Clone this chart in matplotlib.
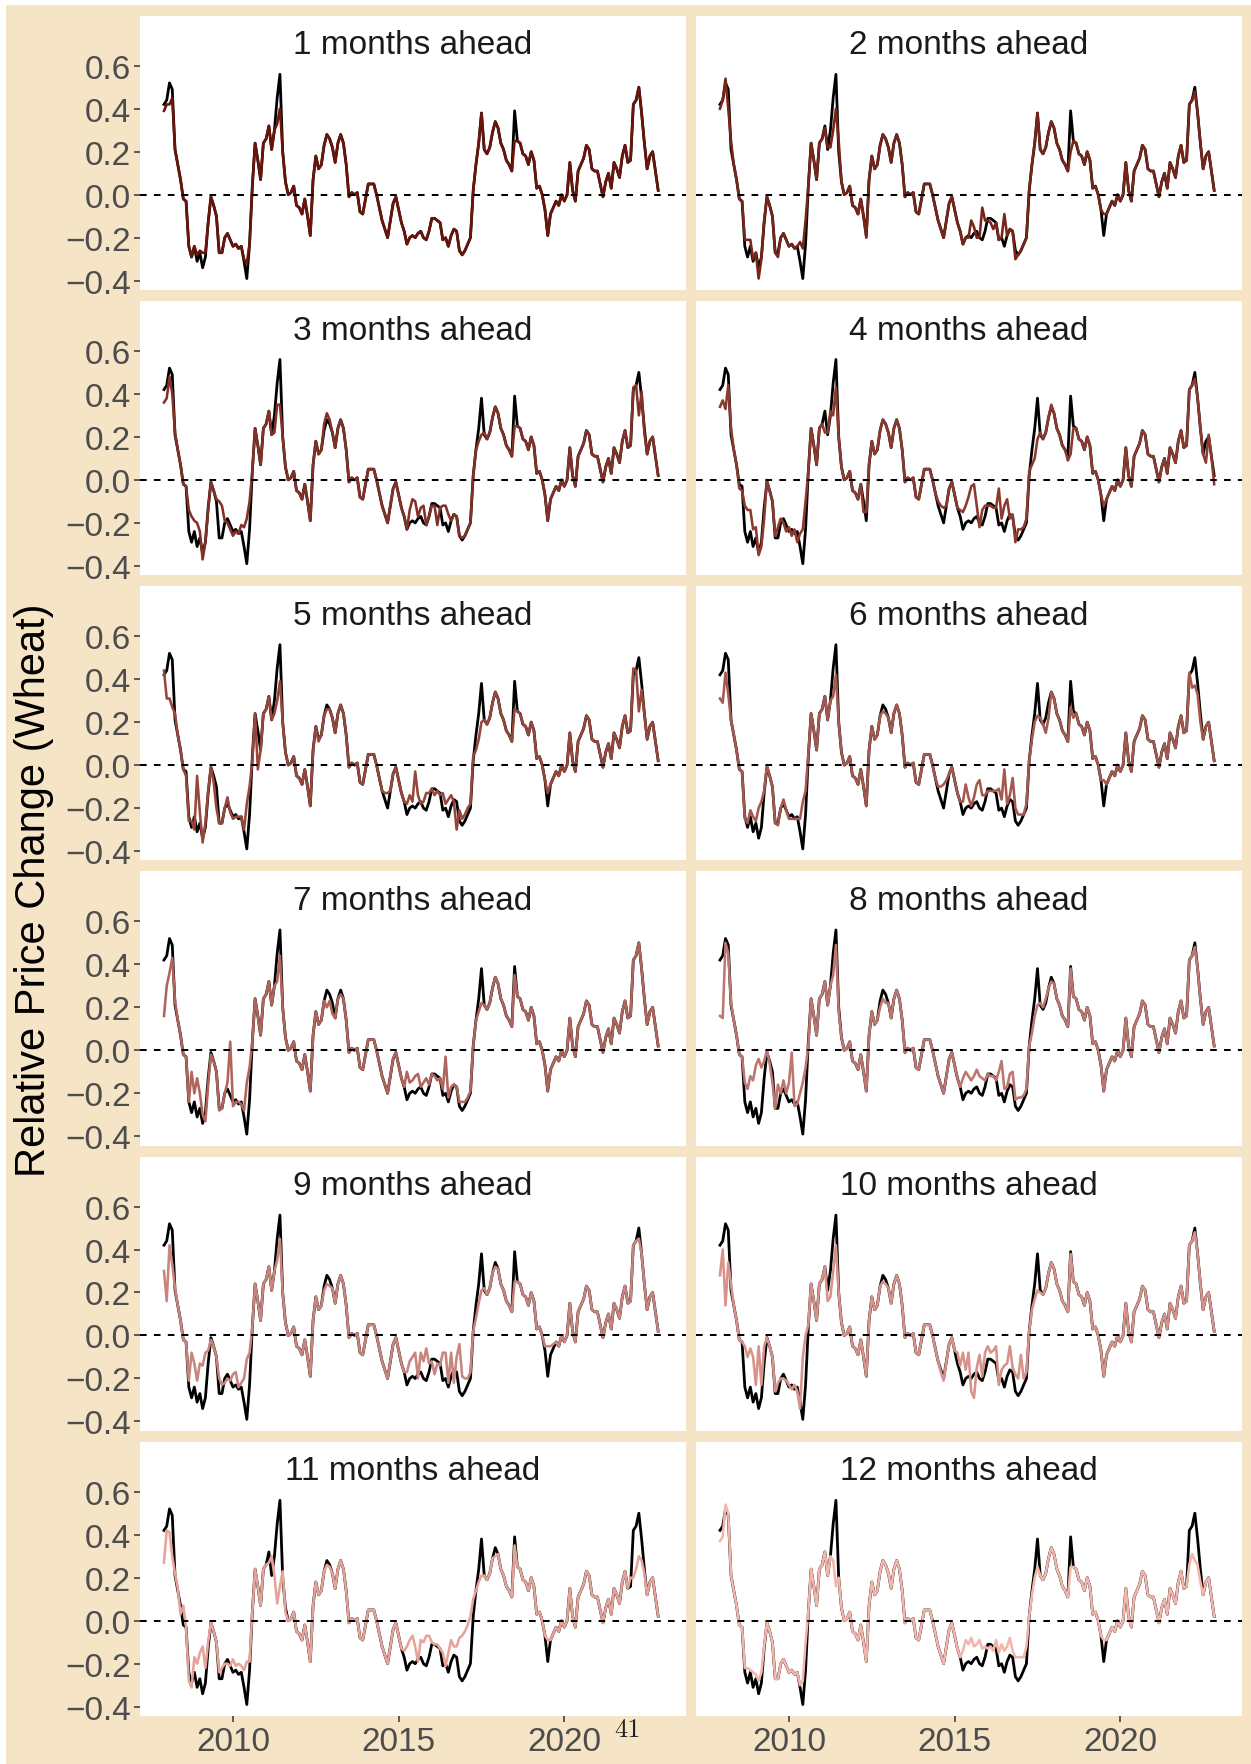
import numpy as np
import matplotlib
matplotlib.use("Agg")
import matplotlib.pyplot as plt

# monthly values, first month is Dec 2007
start_year, start_month = 2007, 12

actual = [
    0.42, 0.44, 0.52, 0.49, 0.21, 0.14, 0.07, -0.02, -0.03, -0.24, -0.29, -0.24,
    -0.31, -0.27, -0.34, -0.29, -0.13, -0.01, -0.05, -0.10, -0.27, -0.27, -0.20, -0.18,
    -0.21, -0.24, -0.23, -0.25, -0.24, -0.31, -0.39, -0.23, 0.04, 0.24, 0.16, 0.07,
    0.24, 0.26, 0.32, 0.21, 0.30, 0.45, 0.56, 0.20, 0.06, 0.00, 0.01, 0.04,
    -0.05, -0.06, -0.09, -0.02, -0.10, -0.19, 0.07, 0.18, 0.12, 0.14, 0.23, 0.28,
    0.26, 0.22, 0.15, 0.24, 0.28, 0.24, 0.14, -0.01, 0.01, 0.00, 0.01, -0.08,
    -0.09, -0.02, 0.05, 0.05, 0.05, 0.00, -0.06, -0.12, -0.16, -0.20, -0.12, -0.04,
    -0.01, -0.07, -0.13, -0.17, -0.23, -0.20, -0.19, -0.20, -0.18, -0.17, -0.20, -0.21,
    -0.17, -0.11, -0.11, -0.12, -0.13, -0.21, -0.20, -0.24, -0.19, -0.16, -0.17, -0.26,
    -0.28, -0.26, -0.23, -0.20, 0.02, 0.14, 0.24, 0.38, 0.21, 0.19, 0.22, 0.29,
    0.34, 0.31, 0.24, 0.21, 0.16, 0.14, 0.11, 0.39, 0.25, 0.24, 0.19, 0.18,
    0.14, 0.20, 0.16, 0.03, 0.04, 0.00, -0.07, -0.19, -0.09, -0.06, -0.03, -0.05,
    0.00, -0.03, 0.00, 0.15, 0.02, -0.03, 0.11, 0.14, 0.17, 0.23, 0.21, 0.12,
    0.11, 0.11, 0.05, -0.01, 0.06, 0.10, 0.03, 0.15, 0.12, 0.08, 0.18, 0.23,
    0.15, 0.16, 0.42, 0.44, 0.50, 0.38, 0.24, 0.12, 0.18, 0.20, 0.11, 0.02,
]

ahead_1 = [
    0.39, 0.42, 0.42, 0.45, 0.21, 0.14, 0.07, -0.02, -0.03, -0.24, -0.29, -0.24,
    -0.28, -0.26, -0.27, -0.27, -0.13, -0.01, -0.05, -0.10, -0.27, -0.27, -0.20, -0.18,
    -0.21, -0.24, -0.23, -0.25, -0.24, -0.30, -0.32, -0.23, 0.04, 0.24, 0.16, 0.07,
    0.24, 0.26, 0.32, 0.21, 0.30, 0.33, 0.40, 0.20, 0.06, 0.00, 0.01, 0.04,
    -0.05, -0.06, -0.09, -0.02, -0.10, -0.19, 0.07, 0.18, 0.12, 0.14, 0.23, 0.28,
    0.26, 0.22, 0.15, 0.24, 0.28, 0.24, 0.14, -0.01, 0.01, 0.00, 0.01, -0.08,
    -0.09, -0.02, 0.05, 0.05, 0.05, 0.00, -0.06, -0.12, -0.16, -0.20, -0.12, -0.04,
    -0.01, -0.07, -0.13, -0.17, -0.23, -0.20, -0.19, -0.20, -0.18, -0.17, -0.20, -0.21,
    -0.17, -0.11, -0.11, -0.12, -0.13, -0.21, -0.20, -0.24, -0.19, -0.16, -0.17, -0.26,
    -0.28, -0.26, -0.23, -0.20, 0.02, 0.14, 0.24, 0.38, 0.21, 0.19, 0.22, 0.29,
    0.34, 0.31, 0.24, 0.21, 0.16, 0.14, 0.11, 0.25, 0.25, 0.24, 0.19, 0.18,
    0.14, 0.20, 0.16, 0.03, 0.04, 0.00, -0.07, -0.19, -0.09, -0.06, -0.03, -0.05,
    0.00, -0.03, 0.00, 0.15, 0.02, -0.03, 0.11, 0.14, 0.17, 0.23, 0.21, 0.12,
    0.11, 0.11, 0.05, -0.01, 0.06, 0.10, 0.03, 0.15, 0.12, 0.08, 0.18, 0.23,
    0.15, 0.16, 0.42, 0.44, 0.50, 0.38, 0.24, 0.12, 0.18, 0.20, 0.11, 0.02,
]

ahead_2 = [
    0.40, 0.44, 0.54, 0.40, 0.25, 0.14, 0.07, -0.02, -0.03, -0.21, -0.21, -0.21,
    -0.30, -0.27, -0.39, -0.30, -0.12, -0.01, -0.05, -0.10, -0.27, -0.29, -0.20, -0.18,
    -0.21, -0.24, -0.23, -0.25, -0.24, -0.22, -0.25, -0.12, 0.04, 0.24, 0.16, 0.07,
    0.24, 0.26, 0.31, 0.22, 0.22, 0.30, 0.40, 0.25, 0.06, 0.00, 0.01, 0.04,
    -0.05, -0.06, -0.09, -0.02, -0.10, -0.20, 0.07, 0.18, 0.12, 0.14, 0.23, 0.28,
    0.26, 0.22, 0.15, 0.24, 0.28, 0.24, 0.14, -0.01, 0.01, 0.00, 0.01, -0.08,
    -0.09, -0.02, 0.05, 0.05, 0.05, 0.00, -0.06, -0.12, -0.16, -0.20, -0.12, -0.04,
    -0.01, -0.07, -0.13, -0.17, -0.23, -0.20, -0.20, -0.12, -0.15, -0.20, -0.20, -0.06,
    -0.12, -0.12, -0.13, -0.16, -0.13, -0.21, -0.20, -0.09, -0.19, -0.16, -0.17, -0.30,
    -0.28, -0.26, -0.23, -0.20, 0.02, 0.14, 0.24, 0.38, 0.21, 0.19, 0.22, 0.29,
    0.34, 0.31, 0.24, 0.21, 0.16, 0.14, 0.11, 0.20, 0.25, 0.24, 0.19, 0.18,
    0.14, 0.20, 0.16, 0.03, 0.04, 0.00, -0.07, -0.09, -0.09, -0.06, -0.03, -0.05,
    0.00, -0.03, 0.00, 0.15, 0.02, -0.03, 0.11, 0.14, 0.17, 0.23, 0.21, 0.12,
    0.11, 0.11, 0.05, -0.01, 0.06, 0.10, 0.03, 0.15, 0.12, 0.08, 0.18, 0.23,
    0.15, 0.16, 0.42, 0.44, 0.48, 0.38, 0.24, 0.12, 0.18, 0.20, 0.11, 0.02,
]

ahead_3 = [
    0.36, 0.38, 0.48, 0.40, 0.22, 0.14, 0.07, -0.02, -0.03, -0.14, -0.17, -0.19,
    -0.20, -0.24, -0.37, -0.29, -0.14, -0.01, -0.05, -0.09, -0.10, -0.12, -0.19, -0.20,
    -0.23, -0.26, -0.24, -0.25, -0.21, -0.22, -0.18, -0.10, 0.04, 0.24, 0.16, 0.07,
    0.24, 0.26, 0.32, 0.21, 0.22, 0.35, 0.35, 0.20, 0.06, 0.00, 0.01, 0.04,
    -0.05, -0.06, -0.09, -0.02, -0.10, -0.19, 0.07, 0.18, 0.12, 0.14, 0.26, 0.31,
    0.28, 0.22, 0.15, 0.24, 0.28, 0.24, 0.14, -0.01, 0.01, 0.00, 0.01, -0.08,
    -0.09, -0.02, 0.05, 0.05, 0.05, 0.00, -0.06, -0.12, -0.16, -0.20, -0.12, -0.04,
    -0.01, -0.07, -0.13, -0.17, -0.23, -0.14, -0.09, -0.10, -0.17, -0.13, -0.12, -0.21,
    -0.17, -0.12, -0.12, -0.21, -0.13, -0.12, -0.12, -0.16, -0.19, -0.16, -0.17, -0.26,
    -0.27, -0.26, -0.23, -0.20, 0.02, 0.14, 0.18, 0.21, 0.22, 0.19, 0.22, 0.29,
    0.34, 0.31, 0.24, 0.21, 0.16, 0.14, 0.11, 0.25, 0.25, 0.24, 0.19, 0.18,
    0.14, 0.20, 0.16, 0.03, 0.04, 0.00, -0.07, -0.19, -0.09, -0.06, -0.03, -0.05,
    0.00, -0.03, 0.00, 0.15, 0.02, -0.03, 0.11, 0.14, 0.17, 0.23, 0.21, 0.12,
    0.11, 0.11, 0.05, -0.01, 0.06, 0.10, 0.03, 0.15, 0.12, 0.08, 0.18, 0.23,
    0.15, 0.16, 0.43, 0.44, 0.30, 0.41, 0.22, 0.12, 0.18, 0.20, 0.11, 0.02,
]

ahead_4 = [
    0.34, 0.37, 0.33, 0.44, 0.24, 0.14, 0.07, -0.04, -0.05, -0.12, -0.14, -0.14,
    -0.23, -0.22, -0.35, -0.31, -0.18, 0.00, -0.05, -0.10, -0.26, -0.22, -0.18, -0.20,
    -0.24, -0.22, -0.26, -0.23, -0.29, -0.25, -0.23, -0.10, 0.04, 0.24, 0.16, 0.07,
    0.24, 0.26, 0.22, 0.22, 0.32, 0.30, 0.43, 0.20, 0.06, 0.00, 0.01, 0.04,
    -0.05, -0.06, -0.09, -0.02, -0.15, -0.15, 0.07, 0.18, 0.12, 0.14, 0.23, 0.28,
    0.26, 0.22, 0.15, 0.24, 0.28, 0.24, 0.14, -0.01, 0.01, 0.00, 0.01, -0.08,
    -0.09, -0.02, 0.05, 0.05, 0.05, 0.00, -0.06, -0.10, -0.12, -0.13, -0.12, -0.04,
    -0.01, -0.07, -0.13, -0.14, -0.15, -0.12, -0.08, -0.03, -0.02, -0.12, -0.22, -0.14,
    -0.12, -0.12, -0.12, -0.13, -0.13, -0.04, -0.18, -0.12, -0.09, -0.18, -0.16, -0.29,
    -0.23, -0.23, -0.22, -0.18, 0.04, 0.07, 0.10, 0.19, 0.22, 0.19, 0.22, 0.29,
    0.35, 0.31, 0.24, 0.21, 0.16, 0.14, 0.09, 0.12, 0.24, 0.24, 0.19, 0.18,
    0.14, 0.20, 0.16, 0.03, 0.04, 0.00, -0.07, -0.12, -0.09, -0.06, -0.03, -0.05,
    0.00, -0.03, 0.00, 0.15, 0.02, -0.03, 0.11, 0.14, 0.17, 0.23, 0.21, 0.12,
    0.11, 0.11, 0.05, -0.01, 0.06, 0.10, 0.03, 0.15, 0.12, 0.08, 0.18, 0.23,
    0.15, 0.16, 0.42, 0.44, 0.47, 0.38, 0.24, 0.12, 0.08, 0.21, 0.11, -0.02,
]

ahead_5 = [
    0.44, 0.31, 0.31, 0.27, 0.24, 0.14, 0.07, -0.02, -0.05, -0.26, -0.26, -0.30,
    -0.05, -0.22, -0.36, -0.27, -0.12, -0.01, -0.08, -0.20, -0.27, -0.27, -0.20, -0.15,
    -0.22, -0.25, -0.24, -0.24, -0.24, -0.30, -0.18, -0.10, 0.02, 0.24, -0.02, 0.07,
    0.24, 0.26, 0.32, 0.21, 0.24, 0.30, 0.39, 0.20, 0.06, 0.00, 0.01, 0.04,
    -0.05, -0.06, -0.09, -0.02, -0.10, -0.19, 0.07, 0.18, 0.11, 0.14, 0.23, 0.26,
    0.26, 0.22, 0.15, 0.24, 0.28, 0.24, 0.14, -0.01, 0.01, 0.00, 0.01, -0.08,
    -0.09, -0.02, 0.05, 0.05, 0.05, 0.00, -0.06, -0.12, -0.13, -0.13, -0.12, -0.04,
    -0.01, -0.07, -0.13, -0.17, -0.18, -0.14, -0.17, -0.03, -0.14, -0.18, -0.17, -0.13,
    -0.13, -0.11, -0.14, -0.12, -0.14, -0.13, -0.18, -0.16, -0.14, -0.17, -0.30, -0.21,
    -0.25, -0.23, -0.20, -0.18, 0.04, 0.07, 0.12, 0.20, 0.21, 0.19, 0.22, 0.29,
    0.34, 0.31, 0.24, 0.21, 0.16, 0.14, 0.11, 0.26, 0.25, 0.24, 0.19, 0.18,
    0.14, 0.20, 0.16, 0.03, 0.04, 0.00, -0.07, -0.13, -0.09, -0.06, -0.03, -0.05,
    0.00, -0.03, 0.00, 0.15, 0.02, -0.03, 0.11, 0.14, 0.17, 0.23, 0.21, 0.12,
    0.11, 0.11, 0.05, -0.01, 0.06, 0.10, 0.03, 0.15, 0.12, 0.08, 0.18, 0.23,
    0.15, 0.16, 0.45, 0.44, 0.25, 0.35, 0.24, 0.12, 0.18, 0.20, 0.11, 0.02,
]

ahead_6 = [
    0.31, 0.29, 0.43, 0.33, 0.21, 0.14, 0.07, -0.02, -0.03, -0.25, -0.27, -0.21,
    -0.24, -0.26, -0.20, -0.17, -0.12, 0.00, -0.05, -0.10, -0.27, -0.28, -0.20, -0.16,
    -0.21, -0.25, -0.25, -0.25, -0.25, -0.25, -0.17, -0.12, 0.05, 0.24, 0.16, 0.07,
    0.24, 0.26, 0.32, 0.21, 0.30, 0.32, 0.42, 0.20, 0.06, 0.00, 0.01, 0.04,
    -0.05, -0.06, -0.09, -0.02, -0.10, -0.19, 0.07, 0.18, 0.12, 0.14, 0.23, 0.25,
    0.24, 0.22, 0.15, 0.24, 0.28, 0.24, 0.14, -0.01, 0.01, 0.00, 0.01, -0.08,
    -0.09, -0.02, 0.05, 0.05, 0.05, 0.00, -0.06, -0.10, -0.10, -0.09, -0.07, -0.04,
    -0.01, -0.07, -0.13, -0.17, -0.17, -0.09, -0.15, -0.19, -0.15, -0.09, -0.07, -0.14,
    -0.14, -0.12, -0.12, -0.12, -0.12, -0.11, -0.16, -0.02, -0.18, -0.14, -0.06, -0.20,
    -0.23, -0.23, -0.23, -0.18, 0.02, 0.12, 0.20, 0.23, 0.22, 0.19, 0.15, 0.22,
    0.34, 0.31, 0.24, 0.21, 0.16, 0.14, 0.11, 0.27, 0.22, 0.24, 0.19, 0.18,
    0.14, 0.20, 0.16, 0.03, 0.04, 0.00, -0.07, -0.07, -0.09, -0.06, -0.03, -0.05,
    0.00, -0.03, 0.00, 0.15, 0.02, -0.03, 0.11, 0.14, 0.17, 0.23, 0.21, 0.12,
    0.11, 0.11, 0.05, -0.01, 0.06, 0.10, 0.03, 0.15, 0.12, 0.08, 0.18, 0.23,
    0.15, 0.16, 0.43, 0.36, 0.37, 0.33, 0.20, 0.12, 0.18, 0.20, 0.11, 0.02,
]

ahead_7 = [
    0.16, 0.30, 0.36, 0.43, 0.23, 0.14, 0.07, -0.02, -0.03, -0.24, -0.10, -0.20,
    -0.13, -0.20, -0.30, -0.33, -0.16, -0.02, -0.05, -0.10, -0.28, -0.27, -0.20, -0.15,
    0.04, -0.26, -0.24, -0.24, -0.25, -0.28, -0.15, -0.08, 0.04, 0.24, 0.16, 0.07,
    0.24, 0.26, 0.32, 0.21, 0.30, 0.32, 0.44, 0.20, 0.06, 0.00, 0.01, 0.04,
    -0.05, -0.06, -0.09, -0.02, -0.10, -0.19, 0.07, 0.18, 0.12, 0.14, 0.23, 0.20,
    0.23, 0.17, 0.15, 0.24, 0.26, 0.24, 0.14, -0.01, 0.01, 0.00, 0.01, -0.08,
    -0.09, -0.02, 0.05, 0.05, 0.05, 0.00, -0.06, -0.12, -0.16, -0.20, -0.12, -0.04,
    -0.01, -0.07, -0.13, -0.17, -0.10, -0.15, -0.14, -0.12, -0.11, -0.17, -0.15, -0.13,
    -0.16, -0.11, -0.12, -0.14, -0.13, -0.18, -0.03, -0.22, -0.17, -0.16, -0.17, -0.24,
    -0.24, -0.24, -0.22, -0.19, 0.02, 0.14, 0.18, 0.22, 0.21, 0.19, 0.22, 0.29,
    0.34, 0.31, 0.24, 0.21, 0.16, 0.14, 0.11, 0.35, 0.25, 0.24, 0.19, 0.18,
    0.14, 0.20, 0.16, 0.03, 0.04, 0.00, -0.07, -0.19, -0.09, -0.06, -0.03, -0.05,
    0.00, -0.03, 0.00, 0.15, 0.02, -0.03, 0.11, 0.14, 0.17, 0.23, 0.21, 0.12,
    0.11, 0.11, 0.05, -0.01, 0.06, 0.10, 0.03, 0.15, 0.12, 0.08, 0.18, 0.23,
    0.15, 0.16, 0.42, 0.44, 0.50, 0.38, 0.24, 0.12, 0.18, 0.20, 0.11, 0.02,
]

ahead_8 = [
    0.16, 0.15, 0.50, 0.45, 0.22, 0.14, 0.07, -0.02, -0.03, -0.15, -0.18, -0.12,
    -0.14, -0.07, -0.04, -0.08, -0.05, 0.00, -0.06, -0.15, -0.27, -0.16, -0.20, -0.14,
    -0.20, -0.15, -0.01, -0.26, -0.25, -0.20, -0.15, -0.08, 0.02, 0.24, 0.16, 0.07,
    0.24, 0.26, 0.32, 0.21, 0.30, 0.35, 0.49, 0.18, 0.06, 0.00, 0.01, 0.04,
    -0.05, -0.06, -0.09, -0.02, -0.10, -0.19, 0.07, 0.18, 0.12, 0.14, 0.20, 0.24,
    0.22, 0.22, 0.15, 0.24, 0.28, 0.24, 0.14, -0.01, 0.01, 0.00, 0.01, -0.08,
    -0.09, -0.02, 0.05, 0.05, 0.05, 0.00, -0.06, -0.12, -0.16, -0.20, -0.12, -0.04,
    -0.01, -0.07, -0.13, -0.17, -0.13, -0.10, -0.12, -0.14, -0.12, -0.09, -0.12, -0.13,
    -0.14, -0.11, -0.12, -0.12, -0.14, -0.10, -0.05, -0.18, -0.17, -0.11, -0.10, -0.23,
    -0.22, -0.22, -0.21, -0.18, 0.02, 0.08, 0.16, 0.21, 0.22, 0.20, 0.24, 0.29,
    0.32, 0.31, 0.24, 0.21, 0.16, 0.14, 0.11, 0.38, 0.25, 0.24, 0.19, 0.18,
    0.14, 0.20, 0.16, 0.03, 0.04, 0.00, -0.07, -0.19, -0.09, -0.06, -0.03, -0.05,
    0.00, -0.03, 0.00, 0.15, 0.02, -0.03, 0.11, 0.14, 0.17, 0.23, 0.21, 0.12,
    0.11, 0.11, 0.05, -0.01, 0.06, 0.10, 0.03, 0.15, 0.12, 0.08, 0.18, 0.23,
    0.15, 0.16, 0.42, 0.44, 0.48, 0.38, 0.24, 0.12, 0.18, 0.20, 0.11, 0.02,
]

ahead_9 = [
    0.30, 0.16, 0.42, 0.33, 0.22, 0.14, 0.07, -0.02, -0.03, -0.21, -0.08, -0.13,
    -0.21, -0.13, -0.14, -0.08, -0.07, -0.02, -0.05, -0.10, -0.20, -0.23, -0.22, -0.20,
    -0.21, -0.18, -0.17, -0.24, -0.22, -0.20, -0.11, -0.08, 0.04, 0.24, 0.16, 0.07,
    0.24, 0.26, 0.32, 0.21, 0.30, 0.35, 0.45, 0.20, 0.06, 0.00, 0.01, 0.04,
    -0.05, -0.06, -0.09, -0.02, -0.10, -0.19, 0.07, 0.18, 0.12, 0.14, 0.21, 0.24,
    0.23, 0.22, 0.15, 0.24, 0.28, 0.24, 0.14, -0.01, 0.01, 0.00, 0.01, -0.08,
    -0.09, -0.02, 0.05, 0.05, 0.05, 0.00, -0.06, -0.12, -0.16, -0.20, -0.12, -0.04,
    -0.01, -0.07, -0.13, -0.17, -0.17, -0.12, -0.10, -0.08, -0.20, -0.08, -0.12, -0.06,
    -0.13, -0.12, -0.18, -0.13, -0.14, -0.08, -0.08, -0.22, -0.08, -0.22, -0.10, -0.04,
    -0.19, -0.20, -0.20, -0.17, 0.02, 0.08, 0.15, 0.21, 0.22, 0.19, 0.22, 0.29,
    0.32, 0.31, 0.24, 0.21, 0.16, 0.14, 0.11, 0.25, 0.25, 0.24, 0.19, 0.18,
    0.14, 0.20, 0.16, 0.03, 0.04, 0.00, -0.05, -0.05, -0.05, -0.04, -0.03, -0.05,
    0.00, -0.03, 0.00, 0.15, 0.02, -0.03, 0.11, 0.14, 0.17, 0.23, 0.21, 0.12,
    0.11, 0.11, 0.05, -0.01, 0.06, 0.10, 0.03, 0.15, 0.12, 0.08, 0.18, 0.23,
    0.15, 0.16, 0.42, 0.44, 0.45, 0.38, 0.24, 0.12, 0.18, 0.20, 0.11, 0.02,
]

ahead_10 = [
    0.28, 0.40, 0.14, 0.34, 0.24, 0.14, 0.07, -0.02, -0.03, -0.05, -0.10, -0.06,
    -0.10, -0.23, -0.05, -0.23, -0.05, -0.01, -0.05, -0.10, -0.26, -0.22, -0.20, -0.20,
    -0.21, -0.23, -0.25, -0.23, -0.26, -0.34, -0.10, 0.00, 0.05, 0.24, 0.16, 0.07,
    0.24, 0.26, 0.32, 0.16, 0.18, 0.30, 0.42, 0.20, 0.06, 0.00, 0.01, 0.04,
    -0.05, -0.06, -0.09, -0.02, -0.10, -0.19, 0.07, 0.18, 0.12, 0.14, 0.23, 0.25,
    0.24, 0.22, 0.15, 0.24, 0.28, 0.24, 0.14, -0.01, 0.01, 0.00, 0.01, -0.08,
    -0.09, -0.02, 0.05, 0.05, 0.05, 0.00, -0.06, -0.12, -0.17, -0.21, -0.12, -0.04,
    -0.01, -0.07, -0.08, -0.14, -0.08, -0.16, -0.08, -0.26, -0.29, -0.15, -0.09, -0.19,
    -0.08, -0.05, -0.08, -0.07, -0.05, -0.23, -0.16, -0.14, -0.13, -0.05, -0.15, -0.18,
    -0.20, -0.09, -0.20, -0.17, 0.02, 0.12, 0.17, 0.21, 0.20, 0.19, 0.22, 0.29,
    0.34, 0.31, 0.24, 0.21, 0.16, 0.14, 0.11, 0.38, 0.25, 0.24, 0.19, 0.18,
    0.14, 0.20, 0.16, 0.03, 0.04, 0.00, -0.07, -0.19, -0.09, -0.06, -0.03, -0.05,
    0.00, -0.03, 0.00, 0.15, 0.02, -0.03, 0.11, 0.14, 0.17, 0.23, 0.21, 0.12,
    0.11, 0.11, 0.05, -0.01, 0.06, 0.10, 0.03, 0.15, 0.12, 0.08, 0.18, 0.23,
    0.15, 0.16, 0.42, 0.44, 0.48, 0.38, 0.24, 0.12, 0.18, 0.20, 0.11, 0.02,
]

ahead_11 = [
    0.27, 0.42, 0.41, 0.30, 0.22, 0.15, 0.03, 0.07, -0.03, -0.28, -0.31, -0.17,
    -0.20, -0.15, -0.12, -0.22, -0.10, -0.01, -0.05, -0.10, -0.24, -0.22, -0.20, -0.20,
    -0.21, -0.18, -0.21, -0.20, -0.21, -0.23, -0.19, -0.19, 0.04, 0.24, 0.16, 0.07,
    0.24, 0.26, 0.27, 0.30, 0.21, 0.08, 0.16, 0.23, 0.04, 0.00, 0.01, 0.04,
    -0.05, -0.06, -0.09, -0.02, -0.10, -0.19, 0.07, 0.18, 0.12, 0.14, 0.23, 0.26,
    0.25, 0.22, 0.15, 0.24, 0.28, 0.24, 0.14, -0.01, 0.01, 0.00, 0.01, -0.08,
    -0.09, -0.02, 0.05, 0.05, 0.05, 0.00, -0.06, -0.12, -0.16, -0.20, -0.12, -0.04,
    -0.01, -0.07, -0.13, -0.14, -0.12, -0.09, -0.07, -0.12, -0.19, -0.09, -0.10, -0.07,
    -0.07, -0.10, -0.11, -0.11, -0.13, -0.15, -0.21, -0.15, -0.09, -0.12, -0.12, -0.08,
    -0.07, -0.05, -0.02, 0.02, 0.10, 0.14, 0.18, 0.21, 0.21, 0.19, 0.22, 0.29,
    0.30, 0.31, 0.24, 0.21, 0.16, 0.14, 0.11, 0.35, 0.25, 0.24, 0.19, 0.18,
    0.14, 0.20, 0.16, 0.03, 0.04, 0.00, -0.07, -0.09, -0.09, -0.06, -0.03, -0.05,
    0.00, -0.03, 0.00, 0.15, 0.02, -0.03, 0.11, 0.14, 0.17, 0.23, 0.21, 0.12,
    0.11, 0.11, 0.05, -0.01, 0.06, 0.10, 0.03, 0.15, 0.12, 0.08, 0.18, 0.23,
    0.15, 0.20, 0.20, 0.24, 0.30, 0.28, 0.22, 0.12, 0.18, 0.20, 0.11, 0.02,
]

ahead_12 = [
    0.37, 0.39, 0.54, 0.50, 0.21, 0.14, 0.07, -0.02, -0.03, -0.22, -0.22, -0.23,
    -0.24, -0.25, -0.28, -0.24, -0.12, -0.01, -0.05, -0.10, -0.27, -0.27, -0.20, -0.18,
    -0.21, -0.24, -0.23, -0.25, -0.24, -0.30, -0.28, -0.10, 0.04, 0.24, 0.16, 0.07,
    0.24, 0.26, 0.32, 0.21, 0.30, 0.28, 0.16, 0.20, 0.06, 0.00, 0.01, 0.04,
    -0.05, -0.06, -0.09, -0.02, -0.10, -0.19, 0.07, 0.18, 0.12, 0.14, 0.23, 0.28,
    0.26, 0.22, 0.15, 0.24, 0.28, 0.24, 0.14, -0.01, 0.01, 0.00, 0.01, -0.08,
    -0.09, -0.02, 0.05, 0.05, 0.05, 0.00, -0.06, -0.12, -0.16, -0.20, -0.12, -0.04,
    -0.01, -0.07, -0.13, -0.17, -0.14, -0.09, -0.11, -0.08, -0.12, -0.11, -0.09, -0.13,
    -0.12, -0.13, -0.12, -0.14, -0.09, -0.15, -0.11, -0.14, -0.12, -0.08, -0.14, -0.17,
    -0.17, -0.17, -0.17, -0.12, 0.02, 0.12, 0.20, 0.25, 0.21, 0.19, 0.22, 0.29,
    0.34, 0.31, 0.24, 0.21, 0.16, 0.14, 0.11, 0.25, 0.25, 0.24, 0.19, 0.18,
    0.14, 0.20, 0.16, 0.03, 0.04, 0.00, -0.07, -0.09, -0.09, -0.06, -0.03, -0.05,
    0.00, -0.03, 0.00, 0.15, 0.02, -0.03, 0.11, 0.14, 0.17, 0.23, 0.21, 0.12,
    0.11, 0.11, 0.05, -0.01, 0.06, 0.10, 0.03, 0.15, 0.12, 0.08, 0.18, 0.23,
    0.15, 0.16, 0.26, 0.31, 0.28, 0.26, 0.18, 0.12, 0.18, 0.20, 0.11, 0.02,
]

horizons = list(range(1, 13))
forecasts = [ahead_1, ahead_2, ahead_3, ahead_4, ahead_5, ahead_6,
             ahead_7, ahead_8, ahead_9, ahead_10, ahead_11, ahead_12]

line_colours = ["#6B150A", "#772419", "#833126", "#8C3A30", "#97463C", "#A4584F",
                "#B0655C", "#BD7770", "#C8857D", "#D7928A", "#E6A399", "#F4B6AC"]

x_ticks = [2010, 2015, 2020]
y_ticks = [-0.4, -0.2, 0.0, 0.2, 0.4, 0.6]

W, H = 1251, 1765
BEIGE = "#F5E4C5"
FONT = ["Liberation Sans", "DejaVu Sans"]


def panel_box(x0, top, w, h):
    return [x0 / W, 1 - (top + h) / H, w / W, h / H]


def main():
    plt.rcParams["font.family"] = FONT
    months = start_year + (start_month - 1 + np.arange(len(actual))) / 12.0

    fig = plt.figure(figsize=(W / 100, H / 100), dpi=100)
    fig.patch.set_facecolor("white")
    # beige page area behind the panels (thin white margin top and left)
    bg = fig.add_axes([6 / W, 0, 1 - 6 / W, 1 - 6 / H], zorder=-5)
    bg.set_facecolor(BEIGE)
    bg.set_xticks([])
    bg.set_yticks([])
    for s in bg.spines.values():
        s.set_visible(False)

    col_x = [140, 696]
    panel_w, panel_h = 546, 274.3
    row_step = 285.2

    for k, h in enumerate(horizons):
        row, col = k // 2, k % 2
        top = 16.7 + row * row_step
        ax = fig.add_axes(panel_box(col_x[col], top, panel_w, panel_h))
        ax.set_facecolor("white")
        for s in ax.spines.values():
            s.set_visible(False)

        ax.plot(months, actual, color="black", lw=2.0, solid_joinstyle="round", zorder=2)
        ax.plot(months, forecasts[k], color=line_colours[k], lw=1.85,
                solid_joinstyle="round", zorder=3)
        ax.axhline(0, color="black", lw=1.45, linestyle=(0, (3.3, 3.6)), zorder=4)

        ax.set_xlim(2007.193, 2023.673)
        ax.set_ylim(-0.4433, 0.8326)
        ax.set_xticks(x_ticks)
        ax.set_yticks(y_ticks)
        ax.set_yticklabels([("%.1f" % v).replace("-", "\u2212") for v in y_ticks])

        ax.text(0.5, 1 - 37.8 / panel_h, "%d months ahead" % h, transform=ax.transAxes,
                ha="center", va="baseline", fontsize=24, color="#1A1A1A")

        ax.tick_params(axis="both", length=4.3, width=1.1, color="#333333",
                       labelsize=24, labelcolor="#4D4D4D")
        ax.tick_params(axis="y", pad=2)
        ax.tick_params(axis="x", pad=3)
        if col == 1:
            ax.tick_params(axis="y", left=False, labelleft=False)
        if row < 5:
            ax.tick_params(axis="x", bottom=False, labelbottom=False)

    fig.text(34 / W, 1 - 890 / H, "Relative Price Change (Wheat)", rotation=90,
             ha="center", va="center", fontsize=30, color="black")
    fig.text(628 / W, 1 - 1730 / H, "41", fontname="cmr10", fontsize=19,
             ha="center", va="center", color="#222222")

    fig.savefig("out.png", dpi=100, facecolor=fig.get_facecolor())


if __name__ == "__main__":
    main()
